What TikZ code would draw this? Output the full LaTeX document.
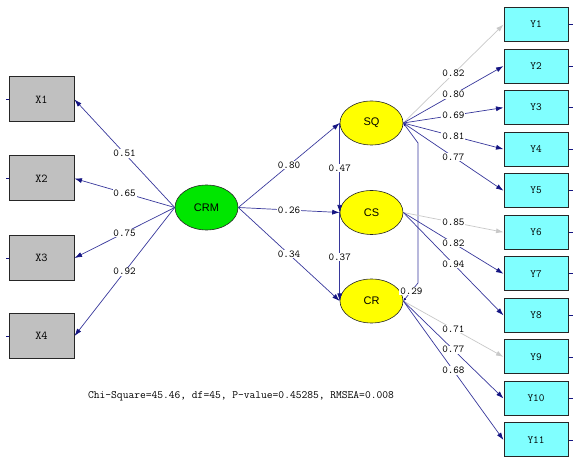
\documentclass[tikz,border=0pt]{standalone}
\usepackage{fontspec}
\setmainfont{Liberation Sans}
\usetikzlibrary{arrows.meta,shapes.geometric,calc}
\definecolor{navy}{RGB}{20,20,130}
\definecolor{lnavy}{RGB}{55,55,155}
\definecolor{lgray}{RGB}{200,200,200}
\definecolor{boxgray}{RGB}{192,192,192}
\definecolor{cyanbox}{RGB}{128,255,255}
\definecolor{latgreen}{RGB}{0,230,0}
\definecolor{latyellow}{RGB}{255,255,0}
\begin{document}
\begin{tikzpicture}[x=1pt,y=-1pt,
  xbox/.style={draw=black!85, line width=1pt, fill=boxgray, minimum width=65pt, minimum height=45pt, inner sep=0pt, font=\ttfamily\fontsize{12}{12}\selectfont},
  ybox/.style={draw=black!85, line width=1pt, fill=cyanbox, minimum width=64pt, minimum height=34pt, inner sep=0pt, font=\ttfamily\fontsize{11}{11}\selectfont},
  lat/.style={ellipse, draw=black!85, line width=0.6pt, minimum width=63pt, minimum height=44pt, inner sep=0pt, font=\fontsize{11}{11}\selectfont},
  arr/.style={draw=lnavy, line width=0.7pt, -{Latex[length=7.5pt,width=5pt,color=navy]}},
  garr/.style={draw=lgray, line width=0.7pt, -{Latex[length=7.5pt,width=5pt,color=lgray]}},
  lab/.style={fill=white, inner sep=0.8pt, font=\ttfamily\fontsize{10.6}{10.6}\selectfont, text=black},
  stub/.style={draw=navy, line width=0.6pt}
]
\useasboundingbox (0,0) rectangle (574,462);
% exogenous indicators
\node[xbox] (X1) at (41.5,99.5) {X1};
\node[xbox] (X2) at (41.5,178.5) {X2};
\node[xbox] (X3) at (41.5,258) {X3};
\node[xbox] (X4) at (41.5,336) {X4};
% latent variables
\node[lat, fill=latgreen, minimum height=45pt] (CRM) at (206.5,207.5) {CRM};
\node[lat, fill=latyellow] (SQ) at (371.5,123) {SQ};
\node[lat, fill=latyellow] (CS) at (371.5,212.5) {CS};
\node[lat, fill=latyellow] (CR) at (371.5,301) {CR};
% endogenous indicators
\foreach \i in {1,...,11}{
  \node[ybox] (Y\i) at (536,{24.5+41.55*(\i-1)}) {Y\i};
  \coordinate (ey\i) at ($(Y\i.east)+(4,0)$);
}
% stubs
\foreach \i in {1,...,4}{
  \coordinate (ex\i) at ($(X\i.west)+(-3,0)$);
  \draw[stub] (X\i.west) -- (ex\i);
}
\foreach \i in {1,...,11}{
  \draw[stub] (Y\i.east) -- (ey\i);
}
% CRM -> X
\draw[arr] (CRM.west) -- node[lab]{0.51} (X1.east);
\draw[arr] (CRM.west) -- node[lab]{0.65} (X2.east);
\draw[arr] (CRM.west) -- node[lab]{0.75} (X3.east);
\draw[arr] (CRM.west) -- node[lab]{0.92} (X4.east);
% CRM -> etas
\draw[arr] (CRM.east) -- node[lab]{0.80} (SQ.west);
\draw[arr] (CRM.east) -- node[lab]{0.26} (CS.west);
\draw[arr] (CRM.east) -- node[lab]{0.34} (CR.west);
% among etas
\draw[arr] (SQ.west) -- node[lab]{0.47} (CS.west);
\draw[arr] (CS.west) -- node[lab]{0.37} (CR.west);
% covariance
\coordinate (c1) at (418,143);
\coordinate (c2) at (418,283);
\draw[draw=lnavy, line width=0.7pt, {Latex[length=3pt,width=3pt,color=navy]}-{Latex[length=3pt,width=3pt,color=navy]}] (SQ.east) -- (c1) -- (c2) -- node[lab, pos=0.45]{0.29} (CR.east);
% SQ -> Y
\draw[garr] (SQ.east) -- node[lab]{0.82} (Y1.west);
\draw[arr] (SQ.east) -- node[lab]{0.80} (Y2.west);
\draw[arr] (SQ.east) -- node[lab]{0.69} (Y3.west);
\draw[arr] (SQ.east) -- node[lab]{0.81} (Y4.west);
\draw[arr] (SQ.east) -- node[lab]{0.77} (Y5.west);
% CS -> Y
\draw[garr] (CS.east) -- node[lab]{0.85} (Y6.west);
\draw[arr] (CS.east) -- node[lab]{0.82} (Y7.west);
\draw[arr] (CS.east) -- node[lab]{0.94} (Y8.west);
% CR -> Y
\draw[garr] (CR.east) -- node[lab]{0.71} (Y9.west);
\draw[arr] (CR.east) -- node[lab]{0.77} (Y10.west);
\draw[arr] (CR.east) -- node[lab]{0.68} (Y11.west);
% fit statistics
\node[font=\ttfamily\fontsize{11.2}{11.2}\selectfont, text=black, inner sep=0pt] (fit) at (241,396) {Chi-Square=45.46, df=45, P-value=0.45285, RMSEA=0.008};
\end{tikzpicture}
\end{document}
